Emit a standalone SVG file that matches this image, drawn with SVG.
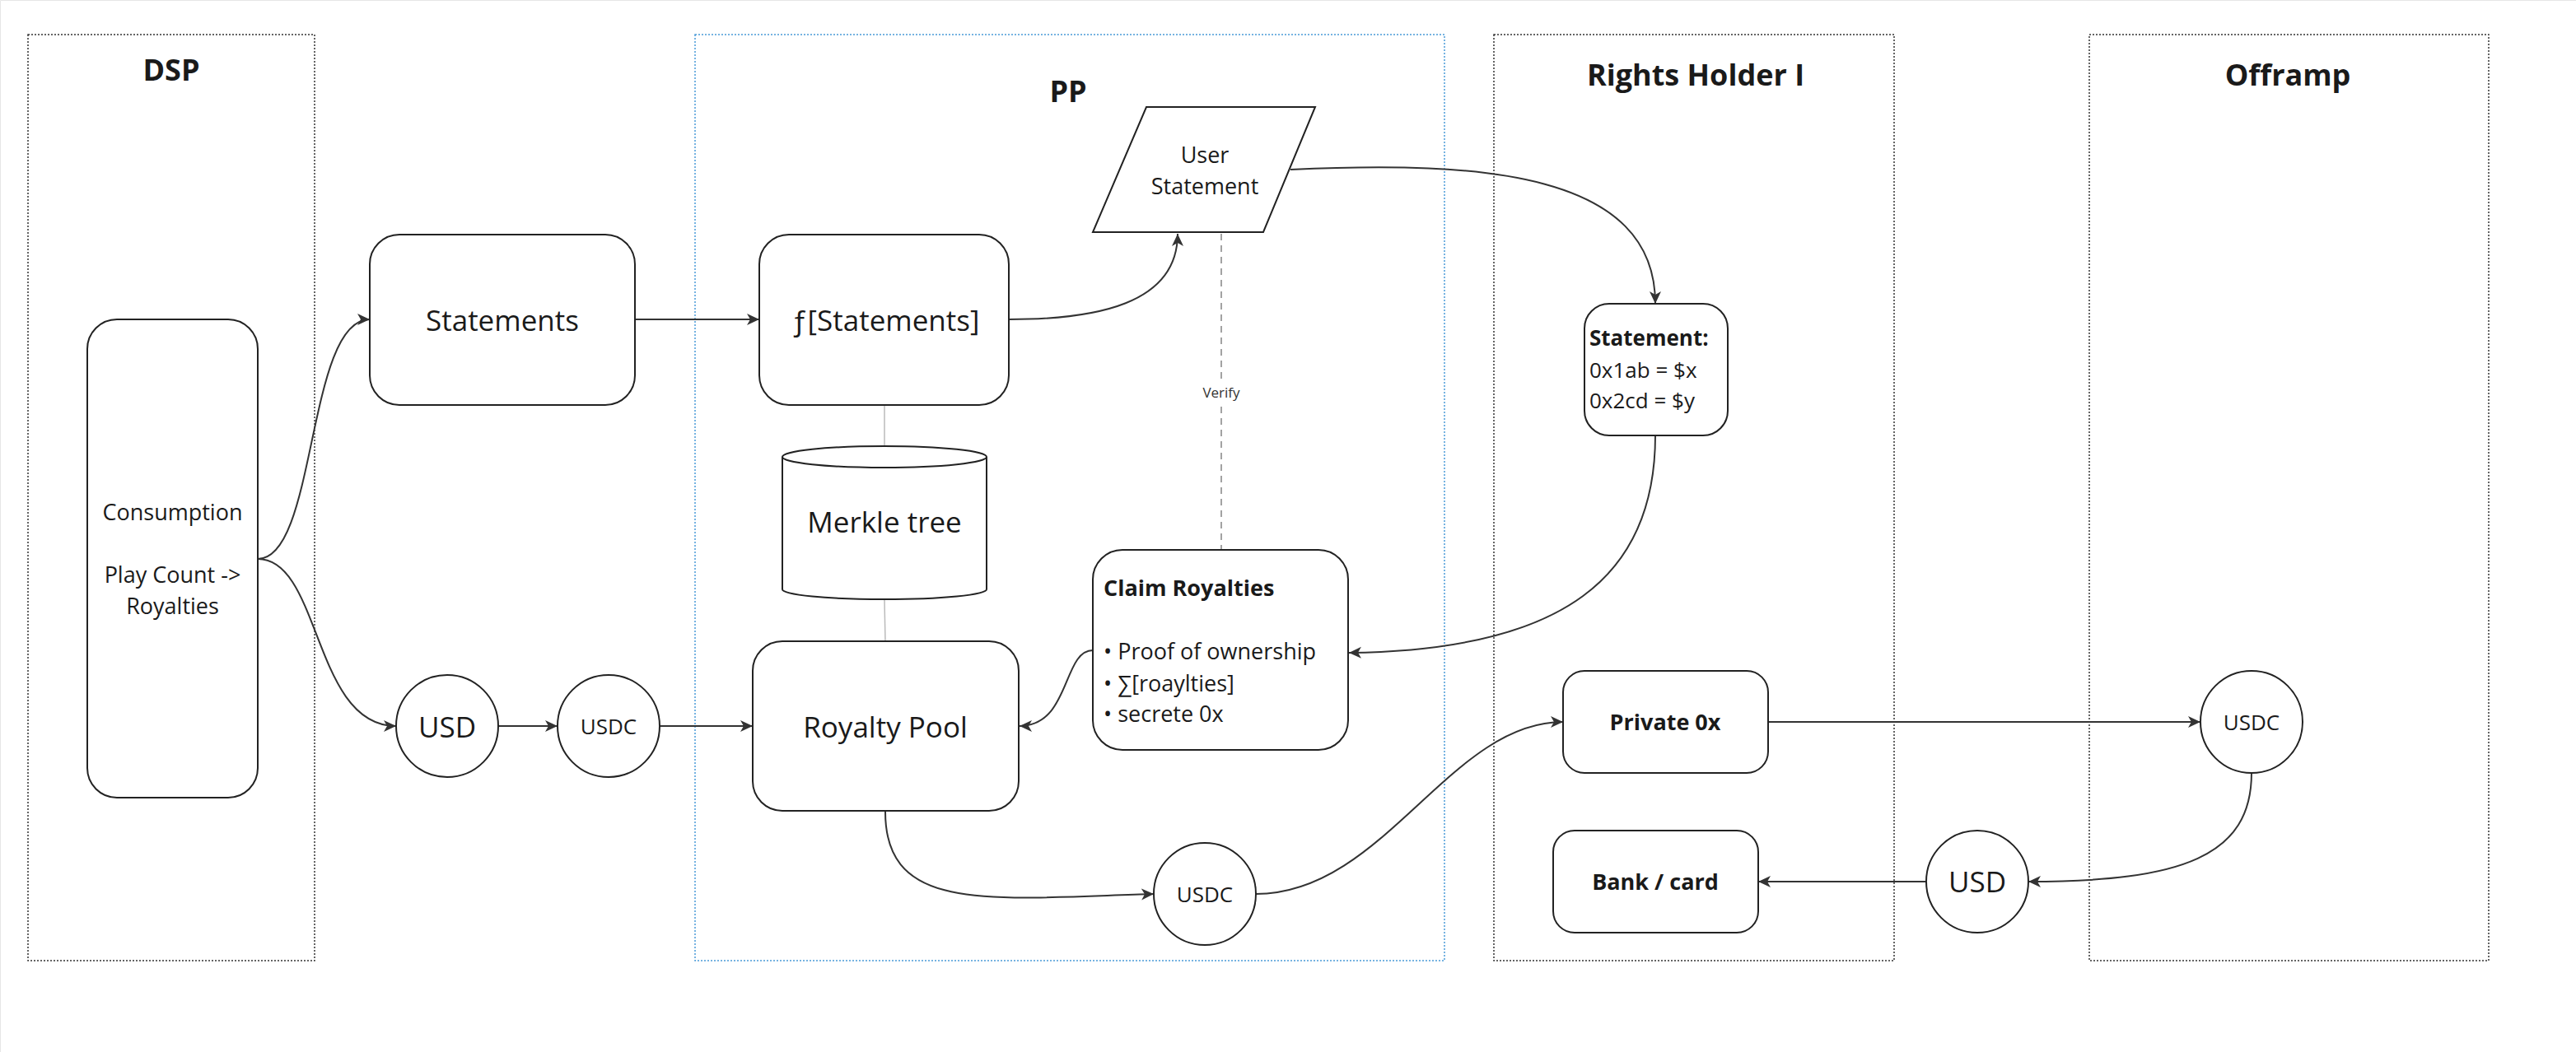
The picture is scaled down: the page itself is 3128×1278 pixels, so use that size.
<svg xmlns="http://www.w3.org/2000/svg" width="3128" height="1278" viewBox="0 0 3128 1278">
<style>
text{font-family:"Open Sans","Noto Sans","DejaVu Sans",sans-serif;fill:#1a1a1a}
.title{font-size:36px;font-weight:700;text-anchor:middle}
.lane{fill:none;stroke:#333;stroke-width:1.5;stroke-dasharray:2 2}
.lane-pp{fill:none;stroke:#4a9ad8;stroke-width:1.5;stroke-dasharray:2 2}
.box{fill:#fff;stroke:#222;stroke-width:2}
.c{text-anchor:middle}
.big{font-size:35px}
.mid{font-size:27px}
.sm{font-size:26px}
.b{font-weight:700}
.conn{fill:none;stroke:#333;stroke-width:2}
.thin{fill:none;stroke:#bbb;stroke-width:1.5}
.dash{fill:none;stroke:#999;stroke-width:1.8;stroke-dasharray:8 6}
</style>
<defs>
<marker id="arr" markerUnits="userSpaceOnUse" markerWidth="16" markerHeight="16" viewBox="0 0 16 16" refX="15" refY="8" orient="auto">
<path d="M0,1 L15,8 L0,15 L4,8 Z" fill="#333"/>
</marker>
</defs>
<rect width="3128" height="1278" fill="#fff"/>
<path d="M0.5,1278 V0.5 H3128" fill="none" stroke="#e6e6e6" stroke-width="1"/>

<g id="lane-dsp"><rect class="lane" x="34" y="42" width="348" height="1125"/><text class="title" x="208" y="98">DSP</text></g>
<g id="lane-pp"><rect class="lane-pp" x="844" y="42" width="910" height="1125"/><text class="title" x="1297" y="124">PP</text></g>
<g id="lane-rh"><rect class="lane" x="1814" y="42" width="486" height="1125"/><text class="title" x="2059" y="104">Rights Holder I</text></g>
<g id="lane-offramp"><rect class="lane" x="2537" y="42" width="485" height="1125"/><text class="title" x="2778" y="104">Offramp</text></g>

<g id="connectors">
<path class="conn" d="M313,679 C385,679 372,388 449,388" marker-end="url(#arr)"/>
<path class="conn" d="M313,679 C390,679 380,882 481,882" marker-end="url(#arr)"/>
<path class="conn" d="M771,388 L922,388" marker-end="url(#arr)"/>
<path class="conn" d="M1225,388 C1330,388 1430,370 1430,284" marker-end="url(#arr)"/>
<path class="conn" d="M1567,206 C1800,195 2010,210 2010,369" marker-end="url(#arr)"/>
<path class="conn" d="M2010,529 C2010,700 1900,790 1638,793" marker-end="url(#arr)"/>
<path class="conn" d="M1327,790 C1290,790 1300,882 1238,882" marker-end="url(#arr)"/>
<path class="conn" d="M605,882 L677,882" marker-end="url(#arr)"/>
<path class="conn" d="M801,882 L914,882" marker-end="url(#arr)"/>
<path class="conn" d="M1075,986 C1075,1110 1200,1092 1401,1086" marker-end="url(#arr)"/>
<path class="conn" d="M1525,1086 C1680,1086 1760,877 1898,877" marker-end="url(#arr)"/>
<path class="conn" d="M2147,877 L2672,877" marker-end="url(#arr)"/>
<path class="conn" d="M2734,939 C2734,1040 2650,1071 2463,1071" marker-end="url(#arr)"/>
<path class="conn" d="M2339,1071 L2135,1071" marker-end="url(#arr)"/>
<path class="thin" d="M1074,492 L1074,542"/>
<path class="thin" d="M1074,729 L1075,779"/>
<path class="dash" d="M1483,284 L1483,668"/>
<rect x="1460" y="466" width="46" height="24" fill="#fff"/>
<text x="1483" y="483" class="c" style="font-size:17px;fill:#333">Verify</text>
</g>

<g id="consumption"><rect class="box" x="106" y="388" width="207" height="581" rx="36"/>
<text class="c mid" x="209.5" y="632">Consumption</text>
<text class="c mid" x="209.5" y="708">Play Count -&gt;</text>
<text class="c mid" x="209.5" y="746">Royalties</text></g>

<g id="statements"><rect class="box" x="449" y="285" width="322" height="207" rx="36"/>
<text class="c big" x="610" y="402">Statements</text></g>

<g id="f-statements"><rect class="box" x="922" y="285" width="303" height="207" rx="36"/>
<text class="c big" x="1075" y="402">ƒ[Statements]</text></g>

<g id="user-statement"><polygon class="box" points="1392,130 1597,130 1534,282 1327,282"/>
<text class="c mid" x="1463" y="198">User</text>
<text class="c mid" x="1463" y="236">Statement</text></g>

<g id="merkle-tree">
<path class="box" d="M950,555 A124,13 0 0,1 1198,555 L1198,716 A124,12 0 0,1 950,716 Z"/>
<path fill="none" stroke="#222" stroke-width="2" d="M950,555 A124,13 0 0,0 1198,555"/>
<text class="c big" x="1074" y="647">Merkle tree</text></g>

<g id="royalty-pool"><rect class="box" x="914" y="779" width="323" height="206" rx="36"/>
<text class="c big" x="1075" y="896">Royalty Pool</text></g>

<g id="claim-royalties"><rect class="box" x="1327" y="668" width="310" height="243" rx="36"/>
<text class="mid b" x="1340" y="724">Claim Royalties</text>
<text class="mid" x="1340" y="801">• Proof of ownership</text>
<text class="mid" x="1340" y="840">• ∑[roaylties]</text>
<text class="mid" x="1340" y="877">• secrete 0x</text></g>

<g id="usd-1"><circle class="box" cx="543" cy="882" r="62"/><text class="c big" x="543" y="896">USD</text></g>
<g id="usdc-1"><circle class="box" cx="739" cy="882" r="62"/><text class="c sm" x="739" y="892">USDC</text></g>
<g id="usdc-2"><circle class="box" cx="1463" cy="1086" r="62"/><text class="c sm" x="1463" y="1096">USDC</text></g>

<g id="rh-statement"><rect class="box" x="1924" y="369" width="174" height="160" rx="30"/>
<text class="b" x="1930" y="420" style="font-size:26px">Statement:</text>
<text x="1930" y="459" style="font-size:26px">0x1ab = $x</text>
<text x="1930" y="496" style="font-size:26px">0x2cd = $y</text></g>

<g id="private-0x"><rect class="box" x="1898" y="815" width="249" height="124" rx="26"/>
<text class="c mid b" x="2022" y="887">Private 0x</text></g>

<g id="bank-card"><rect class="box" x="1886" y="1009" width="249" height="124" rx="26"/>
<text class="c mid b" x="2010" y="1081">Bank / card</text></g>

<g id="usdc-3"><circle class="box" cx="2734" cy="877" r="62"/><text class="c sm" x="2734" y="887">USDC</text></g>
<g id="usd-2"><circle class="box" cx="2401" cy="1071" r="62"/><text class="c big" x="2401" y="1084">USD</text></g>
</svg>
